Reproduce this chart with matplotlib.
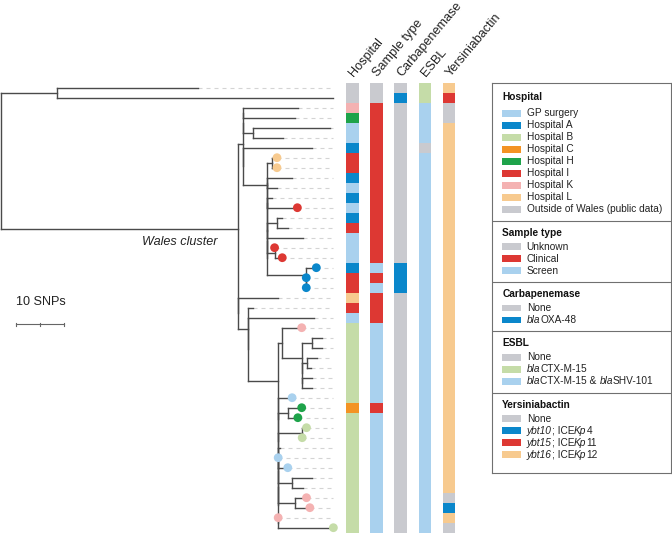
import re
import matplotlib
matplotlib.use("Agg")
import matplotlib.pyplot as plt
from matplotlib.collections import LineCollection
from matplotlib.patches import Rectangle

plt.rcParams['font.family'] = ['Liberation Sans', 'DejaVu Sans']

# ---------------- data ----------------
# Tree (Newick, branch lengths in SNPs), built from named clades
CLADE_A1 = "((t2:11.5,t3:10.8):0,(t4:16.1,t5:6.25):2.0)"
CLADE_R1 = "(((t13:1.0,t14:2.1):2.1,t15:7.4):0,(t16:0,t17:1.6):1.5)"
CLADE_D = "(t18:2.1,(t19:0,t20:0):0)"
CLADE_R = "(" + CLADE_R1 + ":0," + CLADE_D + ":8.1)"
CLADE_Q = "((t11:1.0,t12:6.25):0," + CLADE_R + ":0)"
CLADE_Y = "((t9:5.1,t10:2.1):0," + CLADE_Q + ":0)"
CLADE_C = "((t7:1.0,t8:1.0):1.0," + CLADE_Y + ":0)"
CLADE_A2 = "(t6:14.4," + CLADE_C + ":5.1)"
CLADE_A = "(" + CLADE_A1 + ":0," + CLADE_A2 + ":0)"
CLADE_G = "((t25:2.1,t26:2.1):2.1,((t27:2.1,t28:1.0):1.0,(t29:2.1,t30:2.1):0):0)"
CLADE_F = "(t24:4.2," + CLADE_G + ":4.2)"
CLADE_TOP = "((((t36:0.4,t37:0):0,t38:2.0):0,(t39:4.2,t40:2.2):2.9):0,(t41:2.3,t42:3.0):3.6)"
CLADE_Z3 = "(" + CLADE_TOP + ":0,(t43:0,t44:11.5):0)"
CLADE_Z2 = "((t34:0.9,t35:0):5.0," + CLADE_Z3 + ":0)"
CLADE_Z = "((t32:2.9,t33:2.1):2.0," + CLADE_Z2 + ":0)"
CLADE_YB = "(t31:2.9," + CLADE_Z + ":0)"
CLADE_E = "(" + CLADE_F + ":0.7," + CLADE_YB + ":0)"
CLADE_B = "(t22:1.0,(t23:13.7," + CLADE_E + ":6.25):0)"
CLADE_W = "(" + CLADE_A + ":1.0,(t21:8.3," + CLADE_B + ":2.1):0)"
TREE_NEWICK = "((t0:29.4,t1:57.6):11.7," + CLADE_W + ":49.5);"

# coloured tip dots (tip index -> hospital key)
TIP_DOTS = {7: 'L', 8: 'L', 12: 'I', 16: 'I', 17: 'I', 18: 'A', 19: 'A', 20: 'A',
            24: 'K', 31: 'GP', 32: 'H', 33: 'H', 34: 'B', 35: 'B', 37: 'GP',
            38: 'GP', 41: 'K', 42: 'K', 43: 'K', 44: 'B'}

HOSP_KEYS = ['GP', 'A', 'B', 'C', 'H', 'I', 'K', 'L', 'O']
HOSP_LABELS = ['GP surgery', 'Hospital A', 'Hospital B', 'Hospital C', 'Hospital H',
               'Hospital I', 'Hospital K', 'Hospital L', 'Outside of Wales (public data)']
HOSP_COLORS = ['#a9d1ee', '#0a87cb', '#c5dca8', '#f39324', '#1ea34a',
               '#dd3833', '#f4b2b2', '#f7ca8f', '#c9cacf']

SAMPLE_KEYS = ['U', 'Cl', 'S']
SAMPLE_LABELS = ['Unknown', 'Clinical', 'Screen']
SAMPLE_COLORS = ['#c9cacf', '#dd3833', '#a9d1ee']

# *...* marks italic parts of a label
CARB_KEYS = ['N', 'OXA']
CARB_LABELS = ['None', '*bla*OXA-48']
CARB_COLORS = ['#c9cacf', '#0a87cb']

ESBL_KEYS = ['N', 'CTX', 'CTXSHV']
ESBL_LABELS = ['None', '*bla*CTX-M-15', '*bla*CTX-M-15 & *bla*SHV-101']
ESBL_COLORS = ['#c9cacf', '#c5dca8', '#a9d1ee']

YBT_KEYS = ['N', 'y10', 'y15', 'y16']
YBT_LABELS = ['None', '*ybt10*; ICE*Kp*4', '*ybt15*; ICE*Kp*11', '*ybt16*; ICE*Kp*12']
YBT_COLORS = ['#c9cacf', '#0a87cb', '#dd3833', '#f7ca8f']

# per-tip metadata rows (tip 0 at top)
HOSPITAL = ['O', 'O', 'K', 'H', 'GP', 'GP', 'A', 'I', 'I', 'A',
            'GP', 'A', 'GP', 'A', 'I', 'GP', 'GP', 'GP', 'A', 'I',
            'I', 'L', 'I', 'GP', 'B', 'B', 'B', 'B', 'B', 'B',
            'B', 'B', 'C', 'B', 'B', 'B', 'B', 'B', 'B', 'B',
            'B', 'B', 'B', 'B', 'B']
SAMPLE = ['U', 'U', 'Cl', 'Cl', 'Cl', 'Cl', 'Cl', 'Cl', 'Cl', 'Cl',
          'Cl', 'Cl', 'Cl', 'Cl', 'Cl', 'Cl', 'Cl', 'Cl', 'S', 'Cl',
          'S', 'Cl', 'Cl', 'Cl', 'S', 'S', 'S', 'S', 'S', 'S',
          'S', 'S', 'Cl', 'S', 'S', 'S', 'S', 'S', 'S', 'S',
          'S', 'S', 'S', 'S', 'S']
CARB = ['N', 'OXA', 'N', 'N', 'N', 'N', 'N', 'N', 'N', 'N',
        'N', 'N', 'N', 'N', 'N', 'N', 'N', 'N', 'OXA', 'OXA',
        'OXA', 'N', 'N', 'N', 'N', 'N', 'N', 'N', 'N', 'N',
        'N', 'N', 'N', 'N', 'N', 'N', 'N', 'N', 'N', 'N',
        'N', 'N', 'N', 'N', 'N']
ESBL = ['CTX', 'CTX', 'CTXSHV', 'CTXSHV', 'CTXSHV', 'CTXSHV', 'N', 'CTXSHV', 'CTXSHV', 'CTXSHV',
        'CTXSHV', 'CTXSHV', 'CTXSHV', 'CTXSHV', 'CTXSHV', 'CTXSHV', 'CTXSHV', 'CTXSHV', 'CTXSHV', 'CTXSHV',
        'CTXSHV', 'CTXSHV', 'CTXSHV', 'CTXSHV', 'CTXSHV', 'CTXSHV', 'CTXSHV', 'CTXSHV', 'CTXSHV', 'CTXSHV',
        'CTXSHV', 'CTXSHV', 'CTXSHV', 'CTXSHV', 'CTXSHV', 'CTXSHV', 'CTXSHV', 'CTXSHV', 'CTXSHV', 'CTXSHV',
        'CTXSHV', 'CTXSHV', 'CTXSHV', 'CTXSHV', 'CTXSHV']
YBT = ['y16', 'y15', 'N', 'N', 'y16', 'y16', 'y16', 'y16', 'y16', 'y16',
       'y16', 'y16', 'y16', 'y16', 'y16', 'y16', 'y16', 'y16', 'y16', 'y16',
       'y16', 'y16', 'y16', 'y16', 'y16', 'y16', 'y16', 'y16', 'y16', 'y16',
       'y16', 'y16', 'y16', 'y16', 'y16', 'y16', 'y16', 'y16', 'y16', 'y16',
       'y16', 'N', 'y10', 'y16', 'N']

COLUMN_TITLES = ['Hospital', 'Sample type', 'Carbapenemase', 'ESBL', 'Yersiniabactin']
SCALE_SNPS = 10
CLUSTER_LABEL = 'Wales cluster'


# ---------------- tree parsing & layout ----------------
def parse_newick(s):
    s = s.strip().rstrip(';')
    pos = [0]

    def node():
        n = {'children': [], 'name': None, 'length': 0.0}
        if s[pos[0]] == '(':
            pos[0] += 1
            while True:
                n['children'].append(node())
                if s[pos[0]] == ',':
                    pos[0] += 1
                    continue
                pos[0] += 1  # ')'
                break
        m = re.match(r'[^:,();]*', s[pos[0]:])
        n['name'] = m.group(0) or None
        pos[0] += len(m.group(0))
        if pos[0] < len(s) and s[pos[0]] == ':':
            pos[0] += 1
            m = re.match(r'[0-9.eE+-]+', s[pos[0]:])
            n['length'] = float(m.group(0))
            pos[0] += len(m.group(0))
        return n
    return node()


root = parse_newick(TREE_NEWICK)
root['length'] = 0.0
leaf_counter = [0]
tips = []


def layout(n, parent_x):
    n['x'] = parent_x + n['length']
    if not n['children']:
        n['y'] = leaf_counter[0]
        leaf_counter[0] += 1
        tips.append(n)
        return
    for c in n['children']:
        layout(c, n['x'])
    n['y'] = (n['children'][0]['y'] + n['children'][-1]['y']) / 2.0


layout(root, 0.0)
n_tips = len(tips)

segs = []


def collect(n):
    if not n['children']:
        return
    ys = [c['y'] for c in n['children']]
    segs.append([(n['x'], min(ys)), (n['x'], max(ys))])
    for c in n['children']:
        segs.append([(n['x'], c['y']), (c['x'], c['y'])])
        collect(c)


collect(root)

# ---------------- figure ----------------
W_PX, H_PX = 672, 533
fig = plt.figure(figsize=(W_PX / 100, H_PX / 100), dpi=100)
fig.patch.set_facecolor('white')
renderer = fig.canvas.get_renderer()

PX_PER_SNP = 4.8
row_top_px, row_h_px = 82.7, 10.0
ax_bottom = (H_PX - (row_top_px + row_h_px * n_tips)) / H_PX
ax_height = row_h_px * n_tips / H_PX

ax = fig.add_axes([0, ax_bottom, 340 / W_PX, ax_height])
ax.set_xlim(-0.5 / PX_PER_SNP, 339.5 / PX_PER_SNP)
ax.set_ylim(n_tips - 0.5, -0.5)
ax.axis('off')

max_x = max(t['x'] for t in tips)
for t in tips:
    if max_x - t['x'] > 0.3:
        ax.plot([t['x'], max_x], [t['y'], t['y']], color='#d4d4d4', lw=0.8,
                dashes=(3.6, 3.6), zorder=1, clip_on=False)

lc = LineCollection(segs, colors='#4a4a4a', linewidths=1.0, zorder=2,
                    capstyle='projecting', clip_on=False)
ax.add_collection(lc)

hosp_col = dict(zip(HOSP_KEYS, HOSP_COLORS))
dx = [tips[i]['x'] for i in TIP_DOTS]
dy = [tips[i]['y'] for i in TIP_DOTS]
dc = [hosp_col[k] for k in TIP_DOTS.values()]
ax.scatter(dx, dy, s=40, c=dc, linewidths=0, zorder=3, clip_on=False)

# cluster label
wales = root['children'][1]
ax.text(wales['x'] - 4.2, wales['y'] + 1.3, CLUSTER_LABEL, fontsize=9.1,
        style='italic', ha='right', va='center', color='#222222')

# scale bar
sb_x0, sb_y = 3.2, 23.66
ax.plot([sb_x0, sb_x0 + SCALE_SNPS], [sb_y, sb_y], color='#666666', lw=0.8)
for tx in [sb_x0, sb_x0 + SCALE_SNPS / 2, sb_x0 + SCALE_SNPS]:
    ax.plot([tx, tx], [sb_y - 0.15, sb_y + 0.15], color='#666666', lw=0.8)
ax.text(sb_x0, sb_y - 2.2, f'{SCALE_SNPS} SNPs', fontsize=9.1, ha='left',
        va='center', color='#222222')

# ---------------- heatmap ----------------
axh = fig.add_axes([340.2 / W_PX, ax_bottom, 121 / W_PX, ax_height])
axh.set_xlim(-0.5, 4.5)
axh.set_ylim(n_tips - 0.5, -0.5)
axh.axis('off')

columns = [
    (HOSPITAL, dict(zip(HOSP_KEYS, HOSP_COLORS))),
    (SAMPLE, dict(zip(SAMPLE_KEYS, SAMPLE_COLORS))),
    (CARB, dict(zip(CARB_KEYS, CARB_COLORS))),
    (ESBL, dict(zip(ESBL_KEYS, ESBL_COLORS))),
    (YBT, dict(zip(YBT_KEYS, YBT_COLORS))),
]
cw = 0.52
rows = list(range(n_tips))
for j, (vals, cmap) in enumerate(columns):
    axh.barh(rows, width=cw, left=j - cw / 2, height=1.0,
             color=[cmap[v] for v in vals], linewidth=0)
    axh.annotate(COLUMN_TITLES[j], xy=(j, -0.5), xycoords='data',
                 xytext=(1.5, 5.5), textcoords='offset pixels', rotation=50,
                 rotation_mode='anchor', ha='left', va='baseline',
                 fontsize=9.1, color='#222222', annotation_clip=False)

# ---------------- legend ----------------
lg_left, lg_right, lg_top, lg_bot = 491.7, 671.0, 83.3, 473.3
axl = fig.add_axes([lg_left / W_PX, (H_PX - lg_bot) / H_PX,
                    (lg_right - lg_left) / W_PX, (lg_bot - lg_top) / H_PX])
axl.set_xlim(0, lg_right - lg_left)
axl.set_ylim(lg_bot - lg_top, 0)
axl.set_xticks([])
axl.set_yticks([])
for sp in axl.spines.values():
    sp.set_color('#707070')
    sp.set_linewidth(0.8)


def advance(text, size, style):
    """Horizontal advance (px) of a text piece, measured between two 'H's."""
    def w(s):
        t = fig.text(0, 0, s, fontsize=size, style=style)
        width = t.get_window_extent(renderer=renderer).width
        t.remove()
        return width
    return w('H' + text + 'H') - w('HH')


def styled_text(axis, x, yy, label, size):
    """Draw a label whose *...* parts are italic, piece by piece."""
    parts = label.split('*')
    cur = x
    for i, part in enumerate(parts):
        if not part:
            continue
        style = 'italic' if i % 2 == 1 else 'normal'
        axis.text(cur, yy, part, fontsize=size, ha='left', va='center',
                  style=style, color='#222222')
        cur += advance(part, size, style)  # legend axis units are pixels


sections = [
    ('Hospital', HOSP_LABELS, HOSP_COLORS),
    ('Sample type', SAMPLE_LABELS, SAMPLE_COLORS),
    ('Carbapenemase', CARB_LABELS, CARB_COLORS),
    ('ESBL', ESBL_LABELS, ESBL_COLORS),
    ('Yersiniabactin', YBT_LABELS, YBT_COLORS),
]
y = 0.0
for si, (title, labels, cols) in enumerate(sections):
    if si == 0:
        ty = y + 14.0
        iy = ty + 16.0
    else:
        ty = y + 12.0
        iy = ty + 14.0
    axl.text(10.6, ty, title, fontsize=7.3, fontweight='bold', ha='left',
             va='center', color='#111111')
    for k, (lab, col) in enumerate(zip(labels, cols)):
        yy = iy + 12.0 * k
        axl.add_patch(Rectangle((10.6, yy - 3.3), 18.7, 6.6, facecolor=col,
                                edgecolor='none'))
        styled_text(axl, 35.0, yy, lab, 7.3)
    last = iy + 12.0 * (len(labels) - 1)
    y = last + 11.3
    if si < len(sections) - 1:
        axl.axhline(y, color='#707070', lw=0.8)

fig.savefig('out.png', dpi=100, facecolor='white')
